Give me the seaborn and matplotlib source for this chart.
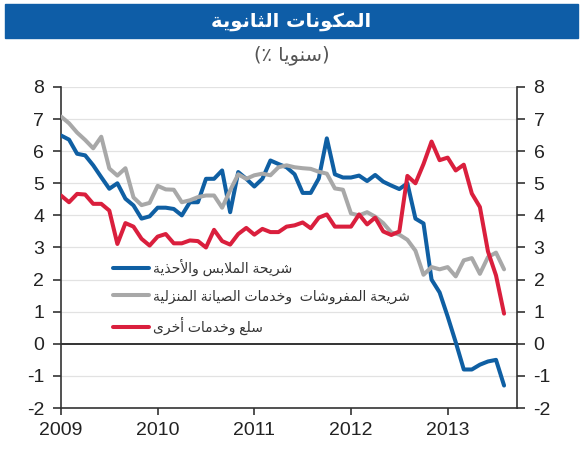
import numpy as np
import pandas as pd
import seaborn as sns
import matplotlib.pyplot as plt
from matplotlib.patches import Rectangle

# monthly data, Jan 2009 .. Aug 2013 (% y/y)
clothing = [6.49, 6.36, 5.92, 5.87, 5.56, 5.19, 4.83, 5.00, 4.52, 4.31, 3.90, 3.97,
            4.24, 4.24, 4.20, 4.00, 4.41, 4.41, 5.14, 5.14, 5.40, 4.10, 5.35, 5.14,
            4.90, 5.14, 5.71, 5.60, 5.50, 5.28, 4.70, 4.70, 5.15, 6.40, 5.28, 5.18,
            5.18, 5.24, 5.07, 5.26, 5.05, 4.93, 4.82, 5.00, 3.90, 3.75, 2.00, 1.60,
            0.85, 0.05, -0.80, -0.80, -0.65, -0.55, -0.50, -1.30]
furnishing = [7.08, 6.87, 6.58, 6.35, 6.09, 6.45, 5.46, 5.24, 5.47, 4.56, 4.32, 4.39,
              4.92, 4.81, 4.80, 4.41, 4.47, 4.57, 4.62, 4.62, 4.24, 4.78, 5.28, 5.14,
              5.25, 5.30, 5.25, 5.50, 5.56, 5.50, 5.47, 5.45, 5.36, 5.30, 4.84, 4.80,
              4.06, 4.00, 4.10, 3.96, 3.76, 3.47, 3.40, 3.24, 2.90, 2.15, 2.39, 2.32,
              2.39, 2.10, 2.60, 2.67, 2.18, 2.70, 2.84, 2.32]
other = [4.62, 4.41, 4.67, 4.65, 4.36, 4.36, 4.15, 3.11, 3.76, 3.65, 3.27, 3.06,
         3.34, 3.42, 3.13, 3.13, 3.22, 3.20, 3.00, 3.55, 3.20, 3.09, 3.42, 3.61,
         3.40, 3.58, 3.48, 3.48, 3.65, 3.69, 3.78, 3.60, 3.93, 4.03, 3.65, 3.65,
         3.65, 4.03, 3.72, 3.93, 3.50, 3.39, 3.50, 5.23, 5.00, 5.60, 6.30, 5.72,
         5.80, 5.40, 5.58, 4.68, 4.26, 2.88, 2.13, 0.94]
years = [2009, 2010, 2011, 2012, 2013]
yticks = list(range(-2, 9))

title = "المكونات الثانوية"
subtitle = "(سنويا ٪)"
labels = ["شريحة الملابس والأحذية",
          "شريحة المفروشات  وخدمات الصيانة المنزلية",
          "سلع وخدمات أخرى"]
colors = ["#0F5FA3", "#A8A8A8", "#DA1F3D"]


# --- tiny arabic shaper (matplotlib has no RTL shaping) ---
RIGHT = {"ا": 0xFE8D, "أ": 0xFE83, "آ": 0xFE81, "إ": 0xFE87, "ة": 0xFE93,
         "د": 0xFEA9, "ذ": 0xFEAB, "ر": 0xFEAD, "ز": 0xFEAF, "و": 0xFEED,
         "ى": 0xFEEF, "ؤ": 0xFE85}
DUAL_BASE = {"ب": 0xFE8F, "ت": 0xFE95, "ث": 0xFE99, "ج": 0xFE9D, "ح": 0xFEA1,
             "خ": 0xFEA5, "س": 0xFEB1, "ش": 0xFEB5, "ص": 0xFEB9, "ض": 0xFEBD,
             "ط": 0xFEC1, "ظ": 0xFEC5, "ع": 0xFEC9, "غ": 0xFECD, "ف": 0xFED1,
             "ق": 0xFED5, "ك": 0xFED9, "ل": 0xFEDD, "م": 0xFEE1, "ن": 0xFEE5,
             "ه": 0xFEE9, "ي": 0xFEF1}
LAMALEF = {"آ": 0xFEF5, "أ": 0xFEF7, "إ": 0xFEF9, "ا": 0xFEFB}


def shape(text):
    # merge lam-alef
    chars = []
    i = 0
    while i < len(text):
        c = text[i]
        if c == "ل" and i + 1 < len(text) and text[i + 1] in LAMALEF:
            chars.append(("LA", text[i + 1]))
            i += 2
        else:
            chars.append((c, None))
            i += 1

    def joins_fwd(item):
        return item[0] in DUAL_BASE

    def is_ar(item):
        return item[0] in DUAL_BASE or item[0] in RIGHT or item[0] == "LA"

    out = []
    for k, item in enumerate(chars):
        c = item[0]
        prev_j = k > 0 and joins_fwd(chars[k - 1])
        next_j = k + 1 < len(chars) and is_ar(chars[k + 1])
        if c == "LA":
            base = LAMALEF[item[1]]
            out.append(chr(base + 1 if prev_j else base))
        elif c in RIGHT:
            base = RIGHT[c]
            out.append(chr(base + 1 if prev_j else base))
        elif c in DUAL_BASE:
            base = DUAL_BASE[c]
            if prev_j and next_j:
                out.append(chr(base + 3))
            elif prev_j:
                out.append(chr(base + 1))
            elif next_j:
                out.append(chr(base + 2))
            else:
                out.append(chr(base))
        else:
            out.append(c)
    vis = "".join(reversed(out))
    return vis.translate(str.maketrans("()", ")("))


x = 2009 + np.arange(len(clothing)) / 12
df = pd.DataFrame({"x": np.tile(x, 3),
                   "v": clothing + furnishing + other,
                   "s": np.repeat([shape(l) for l in labels], len(x))})

sns.set_style("white")
plt.rcParams["font.family"] = ["Liberation Sans", "DejaVu Sans"]
plt.rcParams["axes.unicode_minus"] = False

fig = plt.figure(figsize=(5.83, 4.5), dpi=100)
ax = fig.add_axes([0.1046, 0.0933, 0.782, 0.7134])

for y in yticks:
    if y not in (0, -2):
        ax.axhline(y, color="#E2E2E2", lw=0.9, zorder=0)
ax.axhline(0, color="#333333", lw=1.4, zorder=1)

sns.lineplot(data=df, x="x", y="v", hue="s", palette=colors, lw=2.9, ax=ax,
             legend=False, zorder=3)

ax.set_xlim(2009, 2013.716)
ax.set_ylim(-2, 8)
ax.set_xticks(years)
ax.set_xticklabels([str(y) for y in years])
ax.set_yticks(yticks)
ax.set_xlabel("")
ax.set_ylabel("")
for side in ["left", "right", "bottom"]:
    ax.spines[side].set_visible(True)
    ax.spines[side].set_color("#333333")
    ax.spines[side].set_linewidth(1.2)
ax.spines["top"].set_visible(False)
ax.tick_params(axis="y", left=True, right=True, labelleft=True, labelright=True,
               direction="out", length=6, width=1.1, pad=6, labelsize=14,
               colors="#222222")
ax.tick_params(axis="x", bottom=True, direction="out", length=5, width=1.1,
               pad=5, labelsize=14, colors="#222222")

handles = [plt.Line2D([], [], color=c, lw=2.9) for c in colors]
leg = ax.legend(handles, [shape(l) for l in labels], loc="center left",
                bbox_to_anchor=(0.114, 0.346), frameon=False, fontsize=10,
                handlelength=2.6, handletextpad=0.25, labelspacing=0.95,
                borderpad=0, borderaxespad=0)
for t in leg.get_texts():
    t.set_color("#333333")

fig.patches.append(Rectangle((0.0086, 0.9156), 0.9824, 0.0755,
                             transform=fig.transFigure, color="#0E5DA7",
                             zorder=0))
fig.text(0.5, 0.953, shape(title), ha="center", va="center", color="white",
         fontsize=14, fontweight="bold", family="DejaVu Sans")
fig.text(0.5, 0.877, shape(subtitle), ha="center", va="center",
         color="#555555", fontsize=14, family="DejaVu Sans")

fig.savefig("out.png", dpi=100)
